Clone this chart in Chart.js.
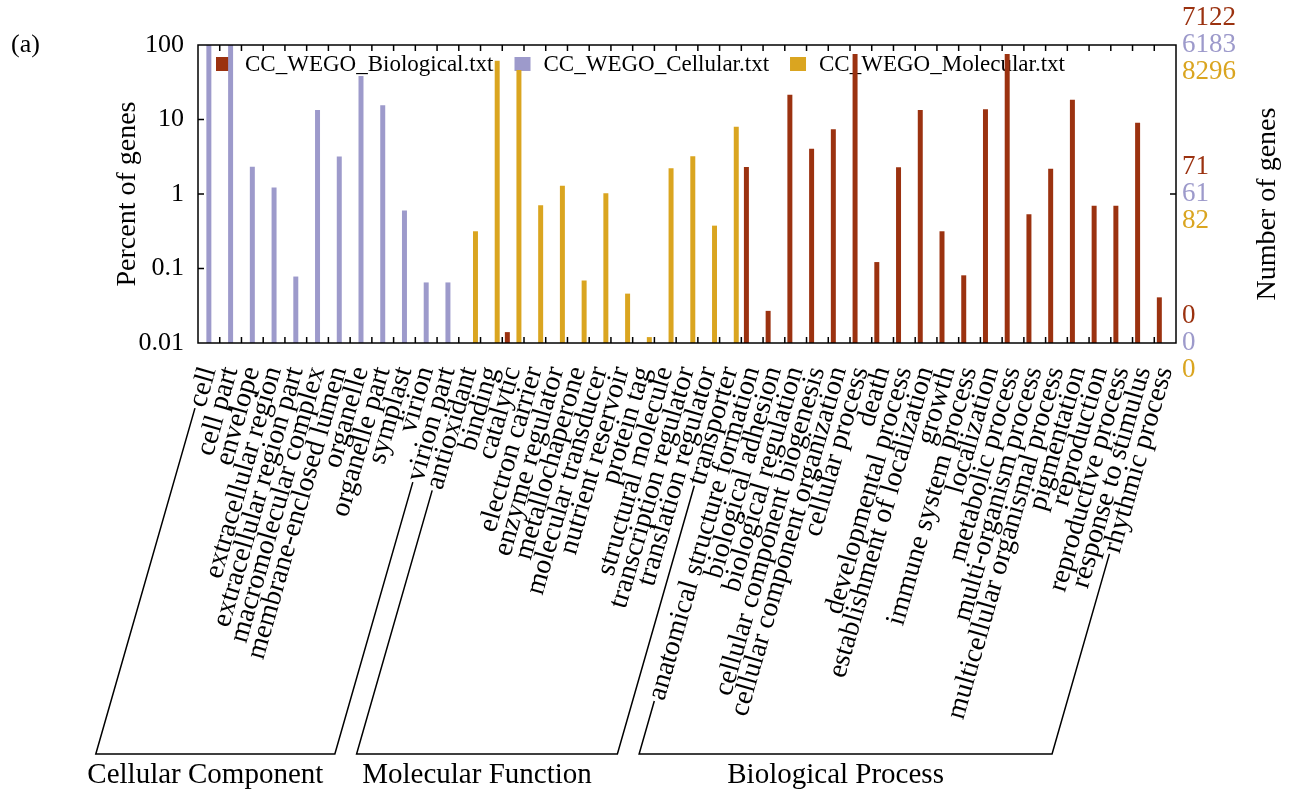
<!DOCTYPE html>
<html>
<head>
<meta charset="utf-8">
<title>WEGO GO classification</title>
<script src="https://cdn.jsdelivr.net/npm/chart.js@4.4.0/dist/chart.umd.min.js"></script>
<style>
  html, body { margin: 0; padding: 0; background: #fff; }
  #wrap { width: 1298px; height: 793px; }
</style>
</head>
<body>
<div id="wrap"><canvas id="goChart" width="1298" height="793"></canvas></div>
<script>
const SERIF = '"Liberation Serif", "Times New Roman", "DejaVu Serif", serif';

// GO terms, in the order they sit on the x axis
const terms = [
  'cell', 'cell part', 'envelope', 'extracellular region', 'extracellular region part',
  'macromolecular complex', 'membrane-enclosed lumen', 'organelle', 'organelle part',
  'symplast', 'virion', 'virion part',
  'antioxidant', 'binding', 'catalytic', 'electron carrier', 'enzyme regulator',
  'metallochaperone', 'molecular transducer', 'nutrient reservoir', 'protein tag',
  'structural molecule', 'transcription regulator', 'translation regulator', 'transporter',
  'anatomical structure formation', 'biological adhesion', 'biological regulation',
  'cellular component biogenesis', 'cellular component organization', 'cellular process',
  'death', 'developmental process', 'establishment of localization', 'growth',
  'immune system process', 'localization', 'metabolic process', 'multi-organism process',
  'multicellular organismal process', 'pigmentation', 'reproduction', 'reproductive process',
  'response to stimulus', 'rhythmic process'
];

const seriesNames = ['CC_WEGO_Biological.txt', 'CC_WEGO_Cellular.txt', 'CC_WEGO_Molecular.txt'];
const seriesColors = ['#9b3210', '#9d9acb', '#daa520'];
const geneTotals = [7122, 6183, 8296];

// percent of genes per term (null = no bar)
const biologicalPct = [
  null, null, null, null, null, null, null, null, null, null, null, null,
  null, null, 0.014, null, null, null, null, null, null, null, null, null, null,
  2.3, 0.027, 21.5, 4.05, 7.4, 75.7, 0.122, 2.28, 13.4, 0.316,
  0.081, 13.7, 75.7, 0.533, 2.19, 18.4, 0.697, 0.697, 9.06, 0.041
];
const cellularPct = [
  100, 100, 2.32, 1.22, 0.078, 13.4, 3.18, 38.4, 15.5, 0.6, 0.065, 0.065,
  null, null, null, null, null, null, null, null, null, null, null, null, null,
  null, null, null, null, null, null, null, null, null, null,
  null, null, null, null, null, null, null, null, null, null
];
const molecularPct = [
  null, null, null, null, null, null, null, null, null, null, null, null,
  0.316, 61.4, 46.2, 0.705, 1.29, 0.069, 1.02, 0.046, 0.012, 2.21, 3.21, 0.376, 8.0,
  null, null, null, null, null, null, null, null, null, null,
  null, null, null, null, null, null, null, null, null, null
];

const percentTicks = [0.01, 0.1, 1, 10, 100];
const countTicks = [0.01, 1, 100];

const groups = [
  { name: 'Cellular Component', from: 0, to: 11 },
  { name: 'Molecular Function', from: 12, to: 24 },
  { name: 'Biological Process', from: 25, to: 44 }
];

const LABEL_SIZE = 28;
const LABEL_PAD = 12;
const BRACKET_Y = 754;

// legend drawn inside the plot, under the bars
const insideLegend = {
  id: 'insideLegend',
  beforeDatasetsDraw(chart) {
    const { ctx, chartArea: a } = chart;
    ctx.save();
    ctx.font = `23px ${SERIF}`;
    ctx.textBaseline = 'middle';
    let lx = a.left + 18;
    const ly = a.top + 19;
    chart.data.datasets.forEach((ds) => {
      ctx.fillStyle = ds.backgroundColor;
      ctx.fillRect(lx, ly - 7, 16, 14);
      ctx.fillStyle = '#000';
      ctx.fillText(ds.label, lx + 29, ly + 1);
      lx += 29 + ctx.measureText(ds.label).width + 21;
    });
    ctx.restore();
  }
};

// frame, inward tick marks, coloured gene counts, group brackets
const decorations = {
  id: 'decorations',
  afterDraw(chart) {
    const { ctx, chartArea: a, scales: { x, y, y2 } } = chart;
    ctx.save();
    ctx.strokeStyle = '#000';
    ctx.lineWidth = 1.5;

    ctx.beginPath();
    for (let i = 0; i < terms.length - 1; i++) {
      const bx = (x.getPixelForValue(i) + x.getPixelForValue(i + 1)) / 2;
      ctx.moveTo(bx, a.top); ctx.lineTo(bx, a.top + 6);
      ctx.moveTo(bx, a.bottom); ctx.lineTo(bx, a.bottom - 6);
    }
    percentTicks.slice(1, -1).forEach((v) => {
      const py = y.getPixelForValue(v);
      ctx.moveTo(a.left, py); ctx.lineTo(a.left + 6, py);
    });
    countTicks.slice(1, -1).forEach((v) => {
      const py = y2.getPixelForValue(v);
      ctx.moveTo(a.right, py); ctx.lineTo(a.right - 6, py);
    });
    ctx.stroke();
    ctx.strokeRect(a.left, a.top, a.right - a.left, a.bottom - a.top);

    // right axis: gene numbers per series
    ctx.font = `27px ${SERIF}`;
    ctx.textBaseline = 'middle';
    ctx.textAlign = 'left';
    countTicks.forEach((v) => {
      const py = y2.getPixelForValue(v);
      geneTotals.forEach((t, k) => {
        ctx.fillStyle = seriesColors[k];
        ctx.fillText(String(Math.floor(t * v / 100)), a.right + 6, py + (k - 1) * 27);
      });
    });

    // right axis title, reading upwards like the left one
    ctx.fillStyle = '#000';
    ctx.font = `28px ${SERIF}`;
    ctx.textAlign = 'center';
    ctx.save();
    ctx.translate(1268, (a.top + a.bottom) / 2 + 10);
    ctx.rotate(-Math.PI / 2);
    ctx.fillText('Number of genes', 0, 0);
    ctx.restore();

    // panel tag
    ctx.font = `26px ${SERIF}`;
    ctx.textAlign = 'left';
    ctx.fillText('(a)', 11, 45);

    // brackets under the category labels
    const theta = x.labelRotation * Math.PI / 180;
    const cos = Math.cos(theta), sin = Math.sin(theta);
    const lineH = LABEL_SIZE * 1.2;
    const y0 = x.top + LABEL_PAD;
    ctx.font = `${LABEL_SIZE}px ${SERIF}`;
    const foot = (i) => {
      const w = ctx.measureText(terms[i]).width + 10;
      const fx = x.getPixelForValue(i) - w * cos;
      const fy = y0 + w * sin + (lineH / 2) * cos;
      return { fx, fy, bx: fx - (BRACKET_Y - fy) * cos / sin };
    };
    ctx.lineWidth = 1.5;
    groups.forEach((g) => {
      const p = foot(g.from), q = foot(g.to);
      ctx.beginPath();
      ctx.moveTo(p.fx, p.fy);
      ctx.lineTo(p.bx, BRACKET_Y);
      ctx.lineTo(q.bx, BRACKET_Y);
      ctx.lineTo(q.fx, q.fy);
      ctx.stroke();
    });
    ctx.font = `29px ${SERIF}`;
    ctx.textAlign = 'center';
    groups.forEach((g) => {
      const p = foot(g.from), q = foot(g.to);
      ctx.fillText(g.name, (p.bx + q.bx) / 2 - 10, BRACKET_Y + 21);
    });
    ctx.restore();
  }
};

const datasets = [biologicalPct, cellularPct, molecularPct].map((vals, k) => ({
  label: seriesNames[k],
  data: vals,
  backgroundColor: seriesColors[k],
  borderWidth: 0,
  categoryPercentage: 0.8,
  barPercentage: 0.86
}));

new Chart(document.getElementById('goChart'), {
  type: 'bar',
  data: { labels: terms, datasets },
  plugins: [insideLegend, decorations],
  options: {
    responsive: false,
    animation: false,
    devicePixelRatio: 1,
    layout: { padding: { top: 45, left: 0, right: 0, bottom: 0 } },
    plugins: { legend: { display: false }, tooltip: { enabled: false } },
    scales: {
      x: {
        grid: { display: false },
        border: { display: false },
        ticks: {
          autoSkip: false,
          minRotation: 74,
          maxRotation: 74,
          padding: LABEL_PAD,
          color: '#000',
          font: { family: SERIF, size: LABEL_SIZE }
        },
        afterFit: (s) => { s.height = 450; }
      },
      y: {
        type: 'logarithmic',
        min: 0.01,
        max: 100,
        grid: { display: false },
        border: { display: false },
        afterBuildTicks: (s) => { s.ticks = percentTicks.map((v) => ({ value: v })); },
        ticks: {
          padding: 6,
          color: '#000',
          font: { family: SERIF, size: 26 },
          callback: (v) => String(v)
        },
        title: {
          display: true,
          text: 'Percent of genes',
          color: '#000',
          font: { family: SERIF, size: 28 },
          padding: { top: 111, bottom: 0 }
        },
        afterFit: (s) => { s.width = 198; }
      },
      y2: {
        type: 'logarithmic',
        position: 'right',
        min: 0.01,
        max: 100,
        grid: { display: false },
        border: { display: false },
        ticks: { display: false },
        afterFit: (s) => { s.width = 122; }
      }
    }
  }
});
</script>
</body>
</html>
